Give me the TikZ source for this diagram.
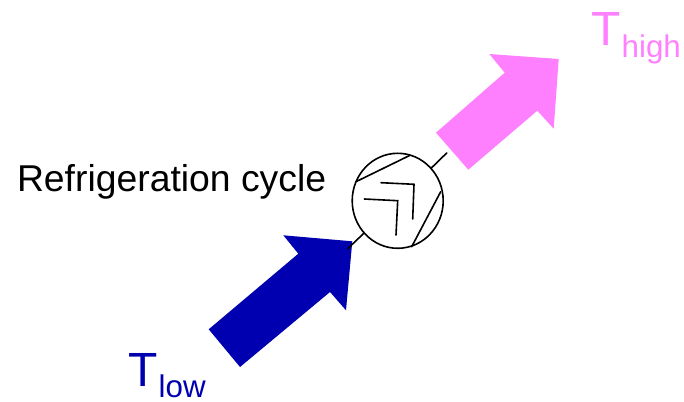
\documentclass[tikz,border=0pt]{standalone}
\usepackage{fontspec}
\setmainfont{Liberation Sans}
\usetikzlibrary{shapes.geometric}
\definecolor{coldblue}{RGB}{0,0,176}
\definecolor{hotpink}{RGB}{255,128,255}
\tikzstyle{thin line} = [line width=1.2pt,line cap=round,line join=miter]
\tikzstyle{label} = [anchor=base west,inner sep=0pt,outer sep=0pt]
\newcommand{\bigT}[1]{\fontsize{36}{36}\selectfont T\kern1pt\raisebox{-8.4pt}{\fontsize{23.5}{24}\selectfont #1}}
\begin{document}
\begin{tikzpicture}[x=0.75pt,y=-0.75pt]
    \useasboundingbox (0,0) rectangle (684,402);

    % big arrows
    \fill [coldblue] (208.7,329.3) -- (240,367) -- (330,292) -- (346,310.3) -- (352.3,241.3) -- (283.3,235.3) -- (298.3,253.7) -- cycle;
    \fill [hotpink] (436,132.7) -- (468.3,169.7) -- (537.3,110.7) -- (553.7,128.7) -- (558.7,59) -- (489.3,54) -- (504.7,72.7) -- cycle;

    % cycle symbol
    \node (cycle) [ellipse, draw=black, line width=1.2pt, inner sep=0pt, minimum width=68.25pt, minimum height=71.25pt] at (397.7,200.8) {};
    \draw [thin line] (356,181.7) -- (410,155.3);
    \draw [thin line] (440.7,191.7) -- (411.7,246.7);
    \draw [thin line] (381,182.7) -- (414,184.3) -- (412.7,219);
    \draw [thin line] (364.3,199) -- (397.7,200.7) -- (396,235);

    \coordinate (stublow) at (347.7,248.7);
    \coordinate (stubhigh) at (446.7,153);
    \draw [thin line] (cycle) -- (stublow);
    \draw [thin line] (cycle) -- (stubhigh);

    % labels
    \node (name) [label, font=\fontsize{28}{30}\selectfont] at (17,192) {Refrigeration cycle};
    \node (low) [label, text=coldblue] at (128,386.7) {\bigT{low}};
    \node (high) [label, text=hotpink] at (591,46) {\bigT{high}};
\end{tikzpicture}
\end{document}
